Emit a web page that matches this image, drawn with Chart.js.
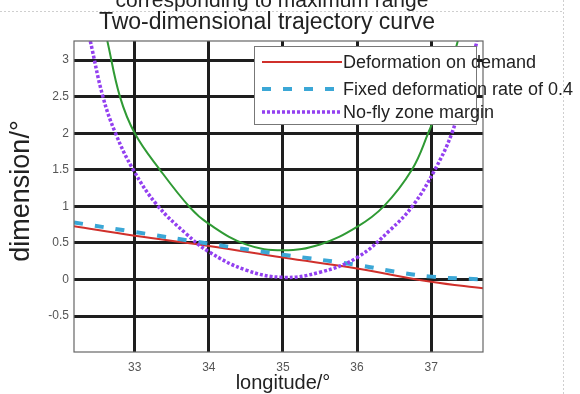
<!DOCTYPE html>
<html>
<head>
<meta charset="utf-8">
<script src="https://cdn.jsdelivr.net/npm/chart.js@4.4.1/dist/chart.umd.min.js"></script>
<style>
  html, body { margin: 0; padding: 0; background: #fff; }
  #wrap { width: 580px; height: 394px; position: relative; }
</style>
</head>
<body>
<div id="wrap"><canvas id="chartTrajectory" width="580" height="394"></canvas></div>
<script>
// --- trajectory data (longitude / dimension, degrees) ---
const lonDemand = [32.18, 33, 34, 35, 36, 37, 37.7];
const dimDemand = [0.73, 0.6, 0.46, 0.3, 0.15, -0.03, -0.12];

const lonFixed = [32.18, 33, 34, 35, 36, 36.5, 37, 37.7];
const dimFixed = [0.78, 0.65, 0.49, 0.34, 0.2, 0.11, 0.04, 0.0];

const lonMargin = [32.40, 32.57, 32.74, 32.98, 33.30, 33.70, 34.0, 34.5, 35.0, 35.5, 36.0, 36.45, 36.76, 37.05, 37.28, 37.42, 37.62];
const dimMargin = [3.26, 2.5, 2.0, 1.5, 1.02, 0.62, 0.38, 0.13, 0.03, 0.10, 0.3, 0.68, 1.02, 1.5, 2.0, 2.5, 3.26];

const lonZone = [32.63, 32.8, 33.0, 33.34, 33.75, 34.0, 34.5, 35.0, 35.5, 36.0, 36.36, 36.74, 36.96, 37.15, 37.36];
const dimZone = [3.26, 2.5, 2.0, 1.5, 0.98, 0.76, 0.48, 0.40, 0.48, 0.72, 1.0, 1.5, 2.0, 2.5, 3.26];

const xTicks = [33, 34, 35, 36, 37];
const yTicks = [-0.5, 0, 0.5, 1, 1.5, 2, 2.5, 3];
const legendLabels = ['Deformation on demand', 'Fixed deformation rate of 0.4', 'No-fly zone margin'];

const toPoints = (xs, ys) => xs.map((x, i) => ({ x, y: ys[i] }));

const FONT = '"Liberation Sans", Arial, sans-serif';

// frame, titles and the boxed legend
const decorPlugin = {
    id: 'decor',
    afterDraw(chart) {
        const ctx = chart.ctx;
        const a = chart.chartArea;
        ctx.save();

        // plot frame
        ctx.strokeStyle = '#666';
        ctx.lineWidth = 1.2;
        ctx.strokeRect(a.left, a.top, a.right - a.left, a.bottom - a.top);

        // page guide lines
        ctx.strokeStyle = '#cfcfcf';
        ctx.lineWidth = 1;
        ctx.setLineDash([2, 2]);
        ctx.beginPath();
        ctx.moveTo(0, 11.5); ctx.lineTo(563, 11.5);
        ctx.moveTo(563.5, 0); ctx.lineTo(563.5, 394);
        ctx.stroke();
        ctx.setLineDash([]);

        // titles
        ctx.fillStyle = '#222';
        ctx.textAlign = 'center';
        ctx.textBaseline = 'alphabetic';
        ctx.font = '21px ' + FONT;
        ctx.fillText('corresponding to maximum range', 272, 7);
        ctx.font = '23px ' + FONT;
        ctx.fillText('Two-dimensional trajectory curve', 267, 29);

        // axis titles
        ctx.font = '20px ' + FONT;
        ctx.textBaseline = 'middle';
        ctx.fillText('longitude/°', 283, 383);
        ctx.save();
        ctx.translate(22, 191);
        ctx.rotate(-Math.PI / 2);
        ctx.font = '27px ' + FONT;
        ctx.fillText('dimension/°', 0, 0);
        ctx.restore();

        // legend box
        const bx = 254, by = 46, bw = 222, bh = 78;
        ctx.fillStyle = '#fff';
        ctx.fillRect(bx, by, bw, bh);
        ctx.strokeStyle = '#777';
        ctx.lineWidth = 1;
        ctx.strokeRect(bx + 0.5, by + 0.5, bw, bh);

        const rows = [62, 89, 112];
        const styles = chart.data.datasets.slice(0, 3);
        styles.forEach((ds, i) => {
            ctx.strokeStyle = ds.borderColor;
            ctx.lineWidth = ds.borderWidth;
            ctx.setLineDash(ds.borderDash || []);
            ctx.beginPath();
            ctx.moveTo(262, rows[i]);
            ctx.lineTo(342, rows[i]);
            ctx.stroke();
        });
        ctx.setLineDash([]);
        ctx.fillStyle = '#222';
        ctx.textAlign = 'left';
        ctx.font = '18px ' + FONT;
        legendLabels.forEach((t, i) => ctx.fillText(t, 343, rows[i] + 1));

        ctx.restore();
    }
};

new Chart(document.getElementById('chartTrajectory'), {
    type: 'line',
    data: {
        datasets: [
            {
                label: legendLabels[0],
                data: toPoints(lonDemand, dimDemand),
                borderColor: '#d0302b',
                borderWidth: 2,
                order: 2
            },
            {
                label: legendLabels[1],
                data: toPoints(lonFixed, dimFixed),
                borderColor: '#3ba7d6',
                borderWidth: 4,
                borderDash: [9, 12],
                order: 1
            },
            {
                label: legendLabels[2],
                data: toPoints(lonMargin, dimMargin),
                borderColor: '#9340f0',
                borderWidth: 3.5,
                borderDash: [3, 2],
                order: 0
            },
            {
                label: 'zone',
                data: toPoints(lonZone, dimZone),
                borderColor: '#2f9a34',
                borderWidth: 2,
                order: 3
            }
        ]
    },
    options: {
        responsive: false,
        animation: false,
        devicePixelRatio: 1,
        layout: { padding: { top: 41, right: 97, left: 0, bottom: 0 } },
        elements: {
            point: { radius: 0 },
            line: { tension: 0.4, fill: false }
        },
        plugins: {
            legend: { display: false },
            tooltip: { enabled: false },
            title: { display: false }
        },
        scales: {
            x: {
                type: 'linear',
                min: 32.18,
                max: 37.7,
                afterFit(scale) { scale.height = 42; },
                afterBuildTicks(scale) { scale.ticks = xTicks.map(v => ({ value: v })); },
                grid: { color: '#1e1e1e', lineWidth: 3, drawTicks: false },
                border: { display: false },
                ticks: { color: '#555', font: { family: FONT, size: 12 }, padding: 8, maxRotation: 0 }
            },
            y: {
                type: 'linear',
                min: -0.99,
                max: 3.26,
                afterFit(scale) { scale.width = 74; },
                afterBuildTicks(scale) { scale.ticks = yTicks.map(v => ({ value: v })); },
                grid: { color: '#1e1e1e', lineWidth: 3, drawTicks: false },
                border: { display: false },
                ticks: {
                    color: '#555',
                    font: { family: FONT, size: 12 },
                    padding: 5,
                    callback: v => String(v)
                }
            }
        }
    },
    plugins: [decorPlugin]
});
</script>
</body>
</html>
